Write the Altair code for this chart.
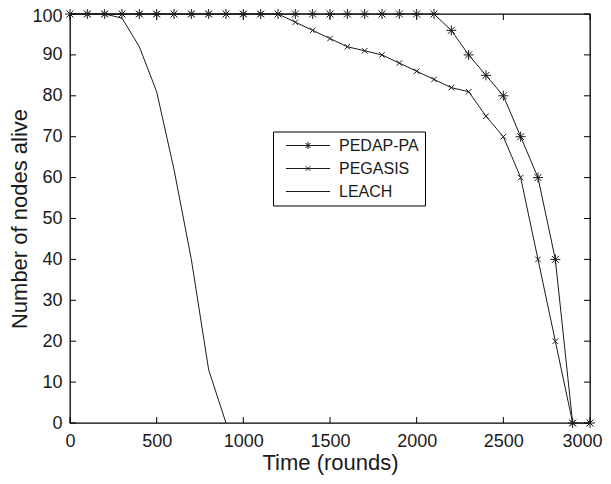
import altair as alt
import pandas as pd

# ---------------- data ----------------
series_names = ["PEDAP-PA", "PEGASIS", "LEACH"]

pedap_rounds = [0, 100, 200, 300, 400, 500, 600, 700, 800, 900, 1000, 1100, 1200, 1300, 1400,
                1500, 1600, 1700, 1800, 1900, 2000, 2100, 2200, 2300, 2400, 2500, 2600, 2700,
                2800, 2900, 3000]
pedap_alive = [100, 100, 100, 100, 100, 100, 100, 100, 100, 100, 100, 100, 100, 100, 100,
               100, 100, 100, 100, 100, 100, 100, 96, 90, 85, 80, 70, 60,
               40, 0, 0]

pegasis_rounds = [0, 100, 200, 300, 400, 500, 600, 700, 800, 900, 1000, 1100, 1200, 1300, 1400,
                  1500, 1600, 1700, 1800, 1900, 2000, 2100, 2200, 2300, 2400, 2500, 2600, 2700,
                  2800, 2900]
pegasis_alive = [100, 100, 100, 100, 100, 100, 100, 100, 100, 100, 100, 100, 100, 98, 96,
                 94, 92, 91, 90, 88, 86, 84, 82, 81, 75, 70, 60, 40,
                 20, 0]

leach_rounds = [0, 100, 200, 300, 400, 500, 600, 700, 800, 900]
leach_alive = [100, 100, 100, 99, 92, 81, 62, 40, 13, 0]

x_ticks = [0, 500, 1000, 1500, 2000, 2500, 3000]
y_ticks = [0, 10, 20, 30, 40, 50, 60, 70, 80, 90, 100]

# ---------------- tables ----------------
df_pedap = pd.DataFrame({"series": "PEDAP-PA", "rounds": pedap_rounds, "alive": pedap_alive})
df_pegasis = pd.DataFrame({"series": "PEGASIS", "rounds": pegasis_rounds, "alive": pegasis_alive})
df_leach = pd.DataFrame({"series": "LEACH", "rounds": leach_rounds, "alive": leach_alive})
df = pd.concat([df_pedap, df_pegasis, df_leach], ignore_index=True)
df_legend = pd.DataFrame({"series": series_names})
df_xt = pd.DataFrame({"rounds": x_ticks})
df_yt = pd.DataFrame({"alive": y_ticks})

# ---------------- style ----------------
W, H = 520, 409
FONT = "Liberation Sans"
INK = "#1a1a1a"
TICK = 6

AST = "M0,-1V1M-1,0H1M-0.7,-0.7L0.7,0.7M-0.7,0.7L0.7,-0.7"
XMK = "M-0.55,-0.55L0.55,0.55M-0.55,0.55L0.55,-0.55"

LEG_PEDAP = "M-1,0M-0.2,0H8.6M4.2,-0.7V0.7M3.5,0H4.9M3.7,-0.5L4.7,0.5M3.7,0.5L4.7,-0.5"
LEG_PEGASIS = "M-1,0M-0.2,0H8.6M3.75,-0.45L4.65,0.45M3.75,0.45L4.65,-0.45"
LEG_LEACH = "M-1,0M-0.2,0H8.6"

xscale = alt.Scale(domain=[0, 3000], nice=False, zero=False)
yscale = alt.Scale(domain=[0, 100], nice=False, zero=False)

x_axis = alt.Axis(values=x_ticks, format="d", title="Time (rounds)", grid=False, ticks=False,
                  tickSize=0, domain=False, labelFont=FONT, labelFontSize=18, labelColor=INK,
                  labelPadding=9, labelFlush=False,
                  labelOffset={"condition": {"test": "datum.value == 3000", "value": -8}, "value": 0},
                  titleFont=FONT, titleFontSize=22,
                  titleFontWeight="normal", titleColor=INK, titlePadding=2)
y_axis = alt.Axis(values=y_ticks, format="d", title="Number of nodes alive", grid=False,
                  ticks=False, tickSize=0, domain=False, labelFont=FONT, labelFontSize=18,
                  labelColor=INK, labelPadding=8, labelFlush=False,
                  labelOffset={"condition": {"test": "datum.value == 100", "value": 2.5}, "value": 0},
                  titleFont=FONT, titleFontSize=22, titleFontWeight="normal", titleColor=INK,
                  titlePadding=0)

X = alt.X("rounds:Q", scale=xscale, axis=x_axis)
Y = alt.Y("alive:Q", scale=yscale, axis=y_axis)

lines = alt.Chart(df).mark_line(color=INK, strokeWidth=1).encode(
    x=X, y=Y, detail="series:N",
)

pedap_pts = alt.Chart(df_pedap).mark_point(
    shape=AST, size=100, filled=False, color=INK, strokeWidth=1, opacity=1
).encode(x=X, y=Y)

pegasis_pts = alt.Chart(df_pegasis).mark_point(
    shape=XMK, size=100, filled=False, color=INK, strokeWidth=1, opacity=1
).encode(x=X, y=Y)

legend_layer = alt.Chart(df_legend).mark_point(filled=False, color=INK, opacity=0).encode(
    x=alt.value(0),
    y=alt.value(0),
    shape=alt.Shape(
        "series:N",
        scale=alt.Scale(domain=series_names, range=[LEG_PEDAP, LEG_PEGASIS, LEG_LEACH]),
        legend=alt.Legend(
            title=None, orient="none", legendX=203, legendY=117.5,
            strokeColor="black", fillColor="white", padding=6,
            symbolSize=100, symbolStrokeColor=INK, symbolStrokeWidth=1,
            symbolOpacity=1, symbolFillColor="transparent",
            labelFont=FONT, labelFontSize=16, labelColor=INK, labelOffset=44,
            rowPadding=7, labelLimit=300,
        ),
    ),
)

tick_bottom = alt.Chart(df_xt).mark_rule(color="black", strokeWidth=1).encode(
    x=X, y=alt.value(H), y2=alt.value(H - TICK))
tick_top = alt.Chart(df_xt).mark_rule(color="black", strokeWidth=1).encode(
    x=X, y=alt.value(0), y2=alt.value(TICK))
tick_left = alt.Chart(df_yt).mark_rule(color="black", strokeWidth=1).encode(
    y=Y, x=alt.value(0), x2=alt.value(TICK))
tick_right = alt.Chart(df_yt).mark_rule(color="black", strokeWidth=1).encode(
    y=Y, x=alt.value(W), x2=alt.value(W - TICK))

chart = alt.layer(
    lines, tick_bottom, tick_top, tick_left, tick_right,
    pegasis_pts, pedap_pts, legend_layer,
).properties(
    width=W, height=H,
    autosize=alt.AutoSizeParams(type="none"),
    padding={"left": 62, "top": 6, "right": 13, "bottom": 52},
    background="white",
).configure_view(
    stroke="black", strokeWidth=1.3, fill="white"
)

chart.save("out.html", embed_options={"renderer": "svg", "actions": False})
